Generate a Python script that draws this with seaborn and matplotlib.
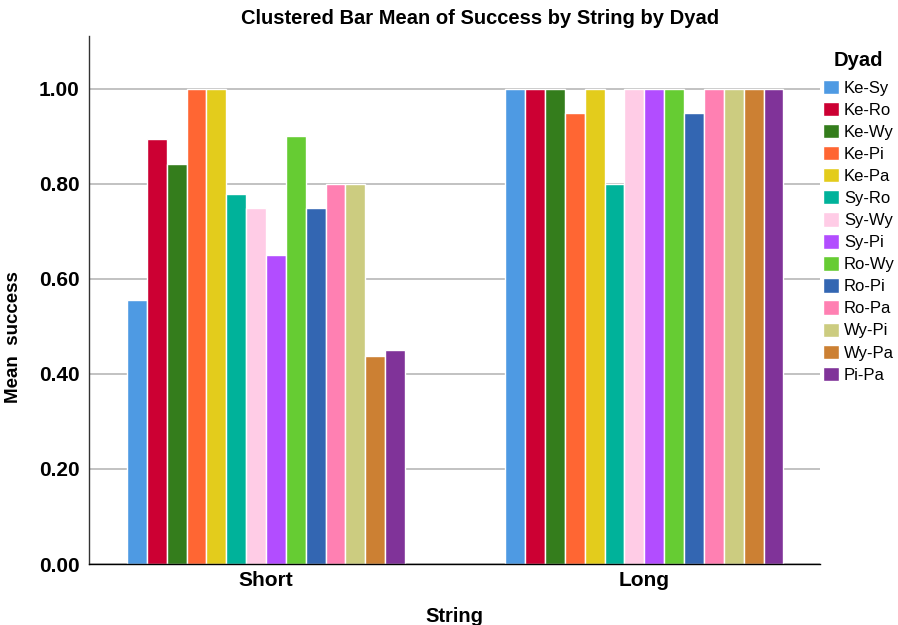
import pandas as pd
import seaborn as sns
import matplotlib.pyplot as plt

strings = ["Short", "Long"]
dyads = ["Ke-Sy", "Ke-Ro", "Ke-Wy", "Ke-Pi", "Ke-Pa", "Sy-Ro", "Sy-Wy",
         "Sy-Pi", "Ro-Wy", "Ro-Pi", "Ro-Pa", "Wy-Pi", "Wy-Pa", "Pi-Pa"]
short_success = [0.556, 0.895, 0.842, 1.00, 1.00, 0.778, 0.75,
                 0.65, 0.90, 0.75, 0.80, 0.80, 0.4375, 0.45]
long_success = [1.00, 1.00, 1.00, 0.95, 1.00, 0.80, 1.00,
                1.00, 1.00, 0.95, 1.00, 1.00, 1.00, 1.00]
colors = ["#4E9AE3", "#CC0033", "#347D1C", "#FF6633", "#E3CC1C", "#00B29A", "#FFCCE6",
          "#B24DFF", "#66CC33", "#3366B2", "#FF80B2", "#CCCC80", "#CC8033", "#803399"]

rows = []
for d, s, l in zip(dyads, short_success, long_success):
    rows.append({"String": "Short", "Dyad": d, "success": s})
    rows.append({"String": "Long", "Dyad": d, "success": l})
df = pd.DataFrame(rows)

sns.set_style("white")
plt.rcParams['font.family'] = ['Liberation Sans', 'DejaVu Sans']
plt.rcParams['text.color'] = 'black'
plt.rcParams['axes.labelcolor'] = 'black'
plt.rcParams['xtick.color'] = 'black'
plt.rcParams['ytick.color'] = 'black'

fig = plt.figure(figsize=(8.98, 6.25), dpi=100)
ax = fig.add_axes([0.0991, 0.0976, 0.8139, 0.8448])

sns.barplot(data=df, x="String", y="success", hue="Dyad",
            order=strings, hue_order=dyads, palette=dict(zip(dyads, colors)),
            width=0.735, edgecolor="white", linewidth=1.0, saturation=1,
            errorbar=None, ax=ax)

ax.set_xlim(-0.468, 1.464)
ax.set_ylim(0, 1.111)
ticks = [0, 0.2, 0.4, 0.6, 0.8, 1.0]
ax.set_yticks(ticks)
ax.set_yticklabels([f"{v:.2f}" for v in ticks], fontsize=15, fontweight="bold")
for lab in ax.get_xticklabels():
    lab.set_fontsize(15)
    lab.set_fontweight("bold")
ax.tick_params(axis="y", length=0, pad=7)
ax.tick_params(axis="x", length=0, pad=5)
ax.yaxis.grid(True, color="#BDBDBD", linewidth=1.3)
ax.set_axisbelow(True)
for side in ["top", "right"]:
    ax.spines[side].set_visible(False)
ax.spines["left"].set_color("#333333")
ax.spines["bottom"].set_color("black")
ax.spines["left"].set_linewidth(1)
ax.spines["bottom"].set_linewidth(1)

ax.set_xlabel("String", fontsize=14.5, fontweight="bold", labelpad=12)
ax.set_ylabel("Mean  success", fontsize=13.5, fontweight="bold")
ax.yaxis.set_label_coords(-0.092, 0.43)
fig.text(0.5345, 0.971, "Clustered Bar Mean of Success by String by Dyad",
         fontsize=14.5, fontweight="bold", ha="center", va="center")

ax.legend_.remove()
handles, labels = ax.get_legend_handles_labels()
leg = fig.legend(handles, labels, title="Dyad", loc="upper left",
                 bbox_to_anchor=(0.9165, 0.9185), frameon=False,
                 fontsize=12, title_fontproperties={"weight": "bold", "size": 14.5},
                 handlelength=0.95, handleheight=0.95, handletextpad=0.3,
                 labelspacing=0.37, borderaxespad=0, borderpad=0)
leg._legend_box.sep = 7

fig.savefig("out.png", dpi=100)
